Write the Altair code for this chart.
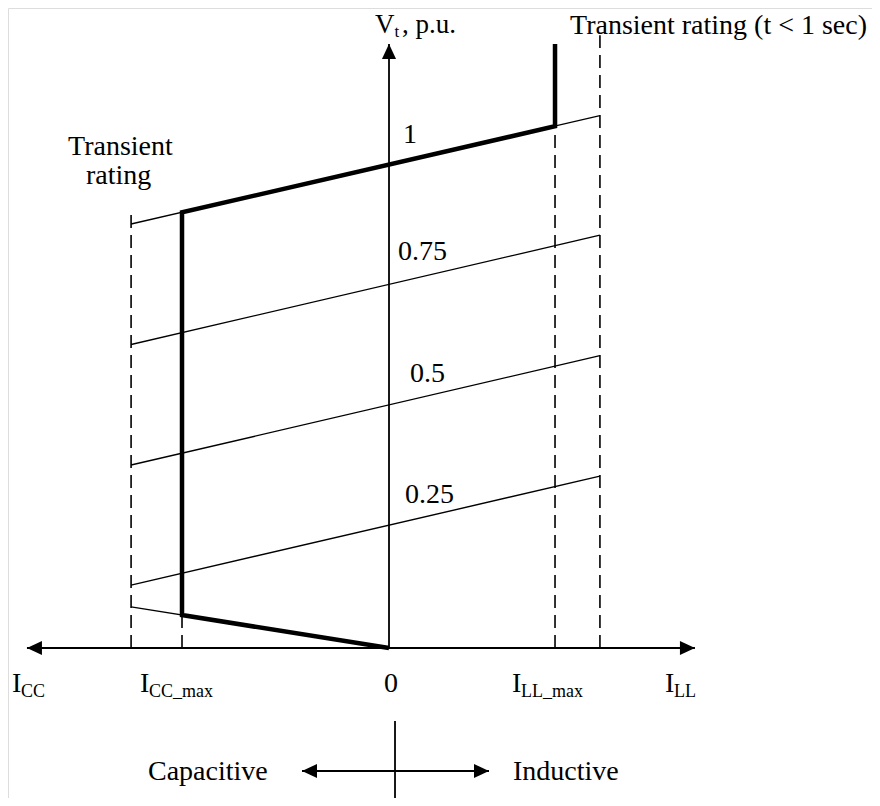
import altair as alt
import pandas as pd

# Diagram coordinates: I = reactive current (I_CC_max = -1), V = terminal voltage (p.u.)
X_DOMAIN = [-1.8406, 2.3333]
Y_DOMAIN = [-0.3099, 1.3223]

I_CC_TR = -1.246   # capacitive transient limit
I_CC_MAX = -1.0
I_LL_MAX = 0.802
I_LL_TR = 1.019    # inductive transient limit

# constant-voltage characteristic lines (left end, right end)
level_names = ["0.25", "0.5", "0.75", "1"]
level_left_v = [0.130, 0.378, 0.627, 0.876]
level_right_v = [0.355, 0.604, 0.853, 1.100]

# low-voltage capacitive limit line
low_i = [I_CC_TR, 0.0]
low_v = [0.085, 0.0]

# bold operating boundary
thick_i = [I_LL_MAX, I_LL_MAX, I_CC_MAX, I_CC_MAX, 0.0]
thick_v = [1.248, 1.078, 0.900, 0.068, 0.0]

# dashed current limits
dash_i = [I_CC_TR, I_CC_MAX, I_LL_MAX, I_LL_TR]
dash_top = [0.898, 0.068, 1.078, 1.266]

# axes
h_axis_i = [-1.749, 1.478]
v_axis_top = 1.248

# capacitive / inductive cross
cross_i = [-0.4203, 0.4831]
cross_v = -0.2541
cross_x = 0.029
cross_v_range = [-0.1508, -0.3099]

# labels: text, I, V, font size
lab_text = ["V", "t", ", p.u.", "Transient rating (t < 1 sec)", "Transient", "rating",
            "1", "0.75", "0.5", "0.25",
            "I", "CC", "I", "CC_max", "0", "I", "LL_max", "I", "LL",
            "Capacitive", "Inductive"]
lab_i = [-0.0676, 0.0266, 0.0628, 0.8744, -1.5507, -1.4638,
         0.0676, 0.0435, 0.1014, 0.0773,
         -1.8213, -1.7778, -1.2029, -1.1594, -0.0242, 0.5942, 0.6377, 1.3333, 1.3768,
         -1.1643, 0.5990]
lab_v = [1.2707, 1.2624, 1.2707, 1.2686, 1.0186, 0.9587,
         1.0434, 0.8017, 0.5496, 0.2996,
         -0.0909, -0.1012, -0.0909, -0.1012, -0.0909, -0.0909, -0.1012, -0.0909, -0.1012,
         -0.2727, -0.2727]
lab_size = [27, 17, 27, 28, 28, 28,
            28, 28, 28, 28,
            28, 18, 28, 18, 28, 28, 18, 28, 18,
            28, 28]

xs = alt.Scale(domain=X_DOMAIN, nice=False, zero=False)
ys = alt.Scale(domain=Y_DOMAIN, nice=False, zero=False)
X = lambda f: alt.X(f, type="quantitative", scale=xs, axis=None)
Y = lambda f: alt.Y(f, type="quantitative", scale=ys, axis=None)

# thin segments
seg_rows = []
for k, name in enumerate(level_names):
    seg_rows.append({"seg": name, "o": 0, "I": I_CC_TR, "V": level_left_v[k]})
    seg_rows.append({"seg": name, "o": 1, "I": I_LL_TR, "V": level_right_v[k]})
for k in range(len(low_i)):
    seg_rows.append({"seg": "low", "o": k, "I": low_i[k], "V": low_v[k]})
seg_df = pd.DataFrame(seg_rows)

thin = alt.Chart(seg_df).mark_line(color="black", strokeWidth=1.4).encode(
    x=X("I"), y=Y("V"), detail="seg:N", order="o:Q")

thick_df = pd.DataFrame({"I": thick_i, "V": thick_v, "o": list(range(len(thick_i)))})
thick = alt.Chart(thick_df).mark_line(color="black", strokeWidth=4.5, strokeJoin="miter").encode(
    x=X("I"), y=Y("V"), order="o:Q")

dash_df = pd.DataFrame({"I": dash_i, "V0": [0.0] * 4, "V1": dash_top})
dashed = alt.Chart(dash_df).mark_rule(color="black", strokeWidth=1.6, strokeDash=[13, 7]).encode(
    x=X("I"), y=Y("V0"), y2="V1")

haxis_df = pd.DataFrame({"I0": [h_axis_i[0]], "I1": [h_axis_i[1]], "V": [0.0]})
haxis = alt.Chart(haxis_df).mark_rule(color="black", strokeWidth=1.8).encode(
    x=X("I0"), x2="I1", y=Y("V"))
vaxis_df = pd.DataFrame({"I": [0.0], "V0": [0.0], "V1": [v_axis_top]})
vaxis = alt.Chart(vaxis_df).mark_rule(color="black", strokeWidth=1.8).encode(
    x=X("I"), y=Y("V0"), y2="V1")

cross_h_df = pd.DataFrame({"I0": [cross_i[0]], "I1": [cross_i[1]], "V": [cross_v]})
cross_h = alt.Chart(cross_h_df).mark_rule(color="black", strokeWidth=1.8).encode(
    x=X("I0"), x2="I1", y=Y("V"))
cross_v_df = pd.DataFrame({"I": [cross_x], "V0": [cross_v_range[0]], "V1": [cross_v_range[1]]})
cross_vl = alt.Chart(cross_v_df).mark_rule(color="black", strokeWidth=1.8).encode(
    x=X("I"), y=Y("V0"), y2="V1")

RIGHT = "M0,0L-1,-0.47L-1,0.47Z"
LEFT = "M0,0L1,-0.47L1,0.47Z"
UP = "M0,0L-0.47,1L0.47,1Z"

def arrow(i, v, shape):
    return alt.Chart(pd.DataFrame({"I": i, "V": v})).mark_point(
        shape=shape, filled=True, color="black", opacity=1, size=900, strokeWidth=0
    ).encode(x=X("I"), y=Y("V"))

arrows = [
    arrow([h_axis_i[1], cross_i[1]], [0.0, cross_v], RIGHT),
    arrow([h_axis_i[0], cross_i[0]], [0.0, cross_v], LEFT),
    arrow([0.0], [v_axis_top], UP),
]

lab_df = pd.DataFrame({"t": lab_text, "I": lab_i, "V": lab_v, "fs": lab_size})
labels = alt.Chart(lab_df).mark_text(
    align="left", baseline="alphabetic", font="Liberation Serif", color="black"
).encode(x=X("I"), y=Y("V"), text="t:N", size=alt.Size("fs:Q", scale=None))

chart = alt.layer(dashed, thin, haxis, vaxis, cross_h, cross_vl, thick, *arrows, labels).properties(
    width=864, height=790, padding=0, autosize=alt.AutoSizeParams(type="none")
).configure_view(stroke=None).configure(background="white")

chart.save("out.html", embed_options={"renderer": "svg", "actions": False})
